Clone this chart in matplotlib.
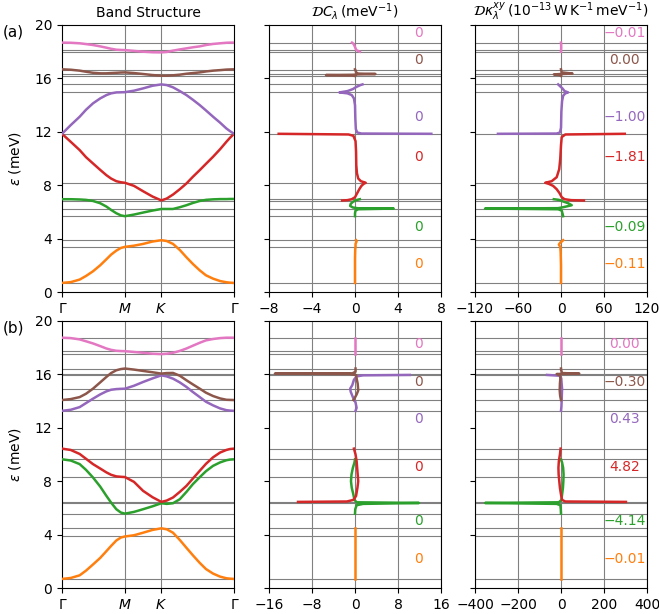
import matplotlib
matplotlib.use('Agg')
import matplotlib.pyplot as plt

# ---------------- data ----------------
k_path = [0.000, 0.080, 0.162, 0.220, 0.284, 0.350, 0.407, 0.450, 0.498, 0.540, 0.577, 0.660, 0.743,
          0.830, 0.911, 0.960, 1.018, 1.080, 1.141, 1.200, 1.263, 1.320, 1.385, 1.450, 1.507, 1.540, 1.577]
k_ticks = [0.0, 0.577, 0.911, 1.577]
k_labels = ['Γ', '$M$', '$K$', 'Γ']
band_colors = ['C1', 'C2', 'C3', 'C4', 'C5', 'C6']

bands_a = [
    [0.68, 0.74, 0.93, 1.20, 1.55, 2.00, 2.45, 2.80, 3.10, 3.30, 3.38, 3.47, 3.60,
     3.78, 3.88, 3.82, 3.60, 3.15, 2.60, 2.10, 1.62, 1.25, 1.00, 0.82, 0.73, 0.70, 0.68],
    [6.95, 6.95, 6.93, 6.90, 6.82, 6.65, 6.40, 6.15, 5.90, 5.74, 5.68, 5.80, 5.95,
     6.10, 6.22, 6.22, 6.22, 6.35, 6.50, 6.67, 6.82, 6.90, 6.94, 6.96, 6.96, 6.97, 6.97],
    [11.85, 11.25, 10.63, 10.10, 9.63, 9.15, 8.75, 8.50, 8.30, 8.22, 8.18, 7.95, 7.55,
     7.15, 6.86, 7.00, 7.30, 7.70, 8.13, 8.63, 9.13, 9.60, 10.13, 10.70, 11.25, 11.55, 11.85],
    [11.85, 12.50, 13.13, 13.65, 14.13, 14.50, 14.75, 14.88, 14.95, 14.96, 14.97, 15.08, 15.25,
     15.45, 15.55, 15.50, 15.33, 15.05, 14.75, 14.40, 14.00, 13.60, 13.13, 12.68, 12.25, 12.05, 11.85],
    [16.68, 16.65, 16.58, 16.50, 16.42, 16.38, 16.38, 16.40, 16.42, 16.44, 16.45, 16.40, 16.33,
     16.25, 16.20, 16.20, 16.23, 16.28, 16.35, 16.40, 16.45, 16.52, 16.58, 16.62, 16.66, 16.67, 16.68],
    [18.68, 18.67, 18.63, 18.57, 18.50, 18.40, 18.30, 18.22, 18.15, 18.13, 18.12, 18.06, 18.00,
     17.96, 17.95, 17.98, 18.08, 18.17, 18.25, 18.33, 18.40, 18.50, 18.58, 18.63, 18.67, 18.68, 18.68],
]
bands_b = [
    [0.68, 0.75, 0.95, 1.30, 1.76, 2.25, 2.76, 3.15, 3.56, 3.78, 3.86, 3.95, 4.14,
     4.35, 4.47, 4.40, 4.14, 3.60, 3.01, 2.45, 1.88, 1.42, 1.08, 0.85, 0.73, 0.70, 0.68],
    [9.64, 9.55, 9.28, 8.85, 8.28, 7.60, 6.90, 6.40, 5.90, 5.65, 5.57, 5.70, 5.90,
     6.12, 6.35, 6.30, 6.35, 6.65, 7.20, 7.78, 8.30, 8.75, 9.15, 9.41, 9.57, 9.62, 9.64],
    [10.44, 10.34, 10.04, 9.68, 9.28, 8.95, 8.66, 8.48, 8.36, 8.33, 8.31, 7.95, 7.28,
     6.80, 6.45, 6.55, 6.78, 7.20, 7.65, 8.20, 8.78, 9.30, 9.79, 10.15, 10.34, 10.41, 10.44],
    [13.27, 13.35, 13.55, 13.85, 14.18, 14.50, 14.73, 14.85, 14.90, 14.92, 14.93, 15.15, 15.43,
     15.70, 15.93, 15.85, 15.68, 15.40, 15.06, 14.68, 14.30, 13.95, 13.68, 13.45, 13.32, 13.29, 13.27],
    [14.08, 14.15, 14.30, 14.55, 14.93, 15.40, 15.81, 16.10, 16.31, 16.40, 16.44, 16.36, 16.26,
     16.16, 16.06, 16.10, 16.11, 15.90, 15.56, 15.25, 14.93, 14.63, 14.38, 14.20, 14.10, 14.09, 14.08],
    [18.75, 18.72, 18.62, 18.48, 18.32, 18.12, 17.94, 17.84, 17.77, 17.75, 17.74, 17.68, 17.62,
     17.55, 17.52, 17.55, 17.62, 17.76, 17.94, 18.15, 18.37, 18.55, 18.65, 18.72, 18.75, 18.75, 18.75],
]

hlines_a = [0.68, 3.38, 3.88, 5.68, 6.25, 6.85, 6.95, 8.18, 11.85, 14.95, 15.55,
            16.18, 16.33, 16.65, 18.0, 18.13, 18.68]
hlines_b = [0.68, 3.86, 4.47, 5.57, 6.35, 6.45, 8.31, 9.64, 10.44, 13.27, 14.08,
            14.93, 15.96, 16.06, 16.44, 17.52, 17.74, 18.75]

# D C_lambda, panel (a)
dcA_E = [
    [0.68, 1.5, 2.5, 3.2, 3.38, 3.6, 3.8, 3.88],
    [5.68, 5.9, 6.1, 6.2, 6.25, 6.27, 6.33, 6.45, 6.6, 6.75, 6.88, 6.95],
    [6.85, 6.88, 6.95, 7.1, 7.4, 7.7, 7.95, 8.1, 8.18, 8.3, 8.5, 8.9, 9.5, 10.5, 11.3, 11.7, 11.8, 11.85],
    [11.85, 11.87, 11.95, 12.2, 13.0, 14.0, 14.5, 14.75, 14.88, 14.95, 15.05, 15.2, 15.35, 15.5, 15.55],
    [16.18, 16.22, 16.25, 16.27, 16.3, 16.33, 16.36, 16.45, 16.6, 16.68],
    [18.0, 18.05, 18.12, 18.25, 18.45, 18.6, 18.68],
]
dcA_V = [
    [0.0, 0.0, 0.0, 0.02, 0.05, 0.05, 0.15, 0.1],
    [0.0, 0.0, 0.05, 0.3, 3.6, 0.3, -0.2, -0.45, -0.4, -0.2, 0.1, 0.45],
    [-1.2, -0.7, -0.3, 0.0, 0.2, 0.4, 0.6, 0.8, 1.0, 0.55, 0.3, 0.18, 0.12, 0.1, 0.05, -0.15, -0.6, -7.1],
    [7.1, 0.6, 0.2, 0.08, 0.03, 0.0, -0.1, -0.3, -0.7, -1.45, -0.7, -0.2, 0.1, 0.5, 0.7],
    [0.0, -0.3, -2.7, -0.2, 0.3, 1.9, 0.3, 0.1, 0.05, 0.0],
    [0.45, 0.3, 0.12, 0.05, -0.05, -0.15, -0.28],
]
# D kappa, panel (a)
dkA_E = [
    [0.68, 2.0, 3.0, 3.38, 3.55, 3.7, 3.8, 3.88],
    [5.68, 5.9, 6.1, 6.2, 6.25, 6.28, 6.35, 6.5, 6.65, 6.8, 6.9, 6.95],
    [6.85, 6.88, 6.95, 7.1, 7.4, 7.7, 7.95, 8.1, 8.18, 8.3, 8.6, 9.2, 10.0, 11.0, 11.6, 11.8, 11.85],
    [11.85, 11.87, 11.95, 12.3, 13.5, 14.3, 14.7, 14.88, 14.95, 15.05, 15.25, 15.4, 15.55],
    [16.18, 16.25, 16.3, 16.33, 16.36, 16.45, 16.6, 16.68],
    [18.0, 18.3, 18.5, 18.68],
]
dkA_V = [
    [0.0, 0.0, -0.5, -1.0, -3.0, -1.0, 1.5, 3.0],
    [3.0, 2.0, 1.0, -4.0, -106.0, -4.0, 3.0, 15.0, 10.0, 2.0, -3.0, -10.0],
    [32, 14, 5, 1, -2, -6, -11, -17, -22, -13, -6, -2.5, -1, 0, 1, 6, 89],
    [-88, -6, -1.5, 0, 0.5, 1.5, 3, 6, 10, 5, 2, -1, -4],
    [0, -2, -10, 0, 16, 1, 0.3, 0],
    [0.0, 0.3, 0.2, 0.0],
]
# D C_lambda, panel (b)
dcB_E = [
    [0.68, 2.0, 3.86, 4.47],
    [5.57, 5.9, 6.2, 6.3, 6.37, 6.42, 6.6, 7.0, 7.5, 8.0, 8.5, 9.0, 9.4, 9.64],
    [6.45, 6.48, 6.6, 6.9, 7.5, 8.0, 8.5, 9.0, 9.5, 10.0, 10.3, 10.44],
    [13.27, 13.5, 13.9, 14.3, 14.7, 14.93, 15.2, 15.6, 15.85, 15.93, 15.96],
    [14.08, 14.2, 14.5, 14.8, 15.3, 15.7, 15.95, 16.03, 16.06, 16.08, 16.2, 16.44],
    [17.52, 18.0, 18.75],
]
dcB_V = [
    [0.0, 0.0, 0.0, 0.0],
    [0.0, 0.05, 0.3, 1.5, 11.9, 0.3, -0.1, -0.3, -0.6, -0.75, -0.65, -0.4, -0.1, 0.0],
    [-10.6, -1.5, -0.3, 0.2, 0.45, 0.6, 0.5, 0.4, 0.3, 0.1, -0.1, -0.2],
    [0.1, 0.3, 0.1, -0.4, -0.8, -0.9, -0.5, -0.2, 0.3, 1.5, 10.2],
    [-0.3, -0.1, 0.3, 0.6, 0.5, 0.3, 0.2, -1.0, -14.9, -0.5, 0.1, 0.1],
    [0.0, 0.0, 0.0],
]
# D kappa, panel (b)
dkB_E = [
    [0.68, 2.0, 3.86, 4.47],
    [5.57, 5.9, 6.2, 6.3, 6.37, 6.42, 6.6, 7.0, 7.5, 8.0, 8.5, 9.0, 9.4, 9.64],
    [6.45, 6.48, 6.6, 7.0, 7.5, 8.0, 8.5, 9.0, 9.5, 10.0, 10.44],
    [13.27, 13.6, 14.0, 14.5, 14.93, 15.3, 15.7, 15.9, 15.96],
    [14.08, 14.4, 14.8, 15.3, 15.7, 15.95, 16.03, 16.06, 16.1, 16.3, 16.44],
    [17.52, 18.0, 18.75],
]
dkB_V = [
    [0.0, 0.0, 0.0, 0.0],
    [0, -1, -3, -20, -353, -10, 2, 5, 9, 11, 12, 10, 5, 0],
    [302, 20, 5, 0, -5, -8, -11, -12, -10, -5, -2],
    [0, 2, 3, 4, 5, 3, 1, -5, -65],
    [0, -4, -6, -5, -3, -5, -20, 85, 5, 1, 0],
    [0.0, 0.0, 0.0],
]

chern_a = [0, 0, 0, 0, 0, 0]
chern_b = [0, 0, 0, 0, 0, 0]
kappa_a = [-0.11, -0.09, -1.81, -1.00, 0.00, -0.01]
kappa_b = [-0.01, -4.14, 4.82, 0.43, -0.30, 0.00]
label_E_a = [2.1, 4.9, 10.1, 13.1, 17.4, 19.4]
label_E_b = [2.14, 5.02, 9.04, 12.68, 15.44, 18.25]

dc_lim_a, dc_ticks_a = 8, [-8, -4, 0, 4, 8]
dk_lim_a, dk_ticks_a = 120, [-120, -60, 0, 60, 120]
dc_lim_b, dc_ticks_b = 16, [-16, -8, 0, 8, 16]
dk_lim_b, dk_ticks_b = 400, [-400, -200, 0, 200, 400]
y_ticks = [0, 4, 8, 12, 16, 20]

# ---------------- figure ----------------
plt.rcParams['font.size'] = 10
W, H = 659, 614
fig = plt.figure(figsize=(W / 100, H / 100), dpi=100)
lefts = [62, 269, 475]
tops = [25, 321]
aw, ah = 172, 267

LW = 1.8
GRID = dict(color='gray', lw=0.8, zorder=0)


def fmt(v):
    return f'{v:.2f}'.replace('-', '\u2212')


rows = [
    dict(bands=bands_a, hl=hlines_a, dcE=dcA_E, dcV=dcA_V, dkE=dkA_E, dkV=dkA_V,
         ch=chern_a, ka=kappa_a, lE=label_E_a, dcl=dc_lim_a, dct=dc_ticks_a,
         dkl=dk_lim_a, dkt=dk_ticks_a, tag='(a)'),
    dict(bands=bands_b, hl=hlines_b, dcE=dcB_E, dcV=dcB_V, dkE=dkB_E, dkV=dkB_V,
         ch=chern_b, ka=kappa_b, lE=label_E_b, dcl=dc_lim_b, dct=dc_ticks_b,
         dkl=dk_lim_b, dkt=dk_ticks_b, tag='(b)'),
]

for r, row in enumerate(rows):
    axs = []
    for c in range(3):
        ax = fig.add_axes([lefts[c] / W, 1 - (tops[r] + ah) / H, aw / W, ah / H])
        ax.set_ylim(0, 20)
        ax.set_yticks(y_ticks)
        for e in row['hl']:
            ax.axhline(e, **GRID)
        axs.append(ax)
    ax0, ax1, ax2 = axs

    # band structure
    for kk in k_ticks[1:3]:
        ax0.axvline(kk, **GRID)
    for vals, col in zip(row['bands'], band_colors):
        ax0.plot(k_path, vals, color=col, lw=LW, zorder=3)
    ax0.set_xlim(k_ticks[0], k_ticks[-1])
    ax0.set_xticks(k_ticks)
    ax0.set_xticklabels(k_labels)
    ax0.set_ylabel(r'$\varepsilon$ (meV)', labelpad=8)

    # DC
    ax1.set_xlim(-row['dcl'], row['dcl'])
    ax1.set_xticks(row['dct'])
    for t in row['dct']:
        ax1.axvline(t, **GRID)
    for E, V, col in zip(row['dcE'], row['dcV'], band_colors):
        ax1.plot(V, E, color=col, lw=LW, zorder=3)
    ax1.set_yticklabels([])
    for v, e, col in zip(row['ch'], row['lE'], band_colors):
        ax1.text(0.87, e, f'{v}', transform=ax1.get_yaxis_transform(),
                 ha='center', va='center', color=col, fontsize=10)

    # D kappa
    ax2.set_xlim(-row['dkl'], row['dkl'])
    ax2.set_xticks(row['dkt'])
    for t in row['dkt']:
        ax2.axvline(t, **GRID)
    for E, V, col in zip(row['dkE'], row['dkV'], band_colors):
        ax2.plot(V, E, color=col, lw=LW, zorder=3)
    ax2.set_yticklabels([])
    for v, e, col in zip(row['ka'], row['lE'], band_colors):
        ax2.text(0.87, e, fmt(v), transform=ax2.get_yaxis_transform(),
                 ha='center', va='center', color=col, fontsize=10)

    if r == 0:
        ax0.set_title('Band Structure', fontsize=10)
        ax1.set_title(r'$\mathcal{D}C_\lambda\,(\mathrm{meV}^{-1})$', fontsize=10)
        ax2.set_title(r'$\mathcal{D}\kappa_\lambda^{xy}\,(10^{-13}\,\mathrm{W\,K^{-1}\,meV^{-1}})$',
                      fontsize=10)
    fig.text(3 / W, 1 - (tops[r] + 7) / H, row['tag'], fontsize=11, ha='left', va='center')

fig.savefig('out.png', dpi=100)
